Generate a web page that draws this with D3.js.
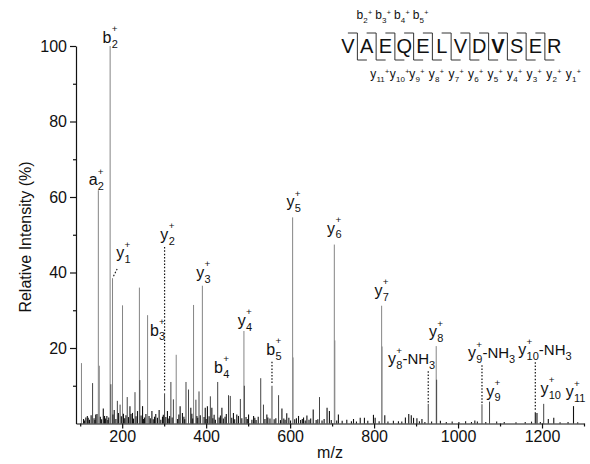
<!DOCTYPE html>
<html><head><meta charset="utf-8">
<script src="https://cdn.jsdelivr.net/npm/d3@7"></script>
<style>
body{margin:0;background:#fff}
svg{display:block}
text{font-family:"Liberation Sans",Arial,Helvetica,sans-serif;fill:#111}
</style>
</head><body>
<svg id="chart" width="590" height="464"></svg>
<script>
// ---------------- data ----------------
const peakMz  = [103,113.5,117,129.5,137,143.2,145.5,155,163.5,171.3,173,177,181,188.5,195,200.8,212,218.5,224.5,230.5,236.5,241,242,248.5,256.5,260.5,270.8,280,288,296,301,307.8,316,322,328.7,338,343.5,352,358,363.5,370,375.6,383,391,397.8,403,410,413.6,427.5,437.5,453.3,457.5,465,473,481.5,490,491,501,513,530,536.5,544.6,556.8,572.5,580.5,592,606,607,620,632,640,655,670,688,693.6,705.3,706.5,715,735,751,767,777,798.5,802.5,818,819,825.5,874.6,882.6,888.6,894,902,914,929,948,949,1040,1057,1075,1184,1188,1204,1215,1228,1275];
const peakInt = [16,1.6,2,10.7,2.4,61.8,15.3,4,2,100,10.4,38.5,3.6,6,5,31.3,7,4.6,2.8,8.3,3.3,36,11.5,4.6,2.5,28.7,3.3,2.5,3.6,1.8,8,3.3,11,6.4,18.2,4.6,2.8,11,9,4.2,31.4,6.3,8.5,36.5,4.2,4.6,7.2,4.2,11,4.2,7.5,7.3,2.8,2.4,6.5,24.5,10,2.4,2,12,5,2.4,10,7.5,4,2.7,54.6,17.5,2,1.6,2.1,3.7,7,4.2,3.3,47.4,22,2.4,1,1.2,1.5,1.5,2.3,1.5,31.2,20.4,2.2,1.6,2.5,2.2,1.5,1.4,1.2,5.2,20.5,11.6,0.8,5.1,5.8,3,2.8,5.2,1.2,1.5,4.6];
const noiseMz  = [108,110,119,122,126,133,135,140,148,151,158,160,166,168,178,185,191,198,203,206,209,215,221,227,233,245,251,253,264,267,274,277,284,292,298,304,311,313,319,332,335,347,349,366,368,378,380,386,395,400,407,416,419,422,431,434,441,445,448,461,468,477,485,495,498,509,516,519,524,540,547,552,562,566,577,585,588,597,601,611,615,625,629,636,645,649,662,666,676,681,698,711,724,746,758,785,812,833,846,858,866,908,921,937,958,972,986,1002,1018,1032,1046,1066,1092,1110,1138,1160,1175,1196,1243,1262,1285];
const noiseInt = [1.2,0.8,1.5,1.0,2.2,1.4,0.9,2.5,1.8,1.1,2.0,1.3,0.9,1.6,2.4,1.2,2.8,1.9,2.6,1.4,2.2,1.7,2.5,1.3,1.9,2.1,1.2,1.6,2.0,1.4,1.1,1.8,1.5,1.0,2.3,1.7,1.3,2.0,1.6,1.2,2.4,1.8,1.1,2.6,1.3,2.0,1.5,2.2,1.7,1.2,1.9,1.4,2.3,1.0,1.6,2.1,1.3,1.8,2.5,1.5,1.1,2.0,1.4,1.7,1.2,1.0,1.5,0.9,1.8,1.2,1.6,1.3,1.1,1.4,0.9,1.3,1.0,1.5,0.8,1.1,1.4,0.9,1.2,0.8,1.0,1.3,0.9,1.1,0.8,1.2,0.9,0.8,0.7,0.6,0.5,0.7,0.6,0.5,0.7,0.6,0.5,0.6,0.4,0.5,0.7,0.4,0.5,0.4,0.6,0.4,0.5,0.4,0.5,0.4,0.3,0.4,0.5,0.4,0.3,0.4,0.3];

const yTickLabels = [20,40,60,80,100];
const yMinorTicks = [10,30,50,70,90];
const xTickLabels = [200,400,600,800,1000,1200];
const xMinorTicks = [100,300,500,700,900,1100,1300];

// annotated ions
const ionType   = ["a","b","y","y","b","y","b","y","b","y","y","y","y","y","y","y","y","y","y"];
const ionNum    = ["2","2","1","2","3","3","4","4","5","5","6","7","8","8","9","9","10","10","11"];
const ionSuffix = ["","","","","","","","","","","","","-NH3","","-NH3","","-NH3","",""];
const ionMz     = [143.2,171.3,177,301,301,391,427.5,490,556.8,606,705.3,818,929,948,1057,1075,1184,1204,1275];
const ionInt    = [61.8,100,38.5,8,8,36.5,11,24.5,10,54.6,47.4,31.2,5.2,20.5,5.1,5.8,3,5.2,4.6];

// peptide sequence
const sequence = ["V","A","E","Q","E","L","V","D","V","S","E","R"];
const seqBIons = [2,3,4,5];
const seqYIons = [11,10,9,8,7,6,5,4,3,2,1];

// ---------------- drawing ----------------
const svg = d3.select("#chart");
const x = d3.scaleLinear().domain([90,1300]).range([76,584]);
const y = d3.scaleLinear().domain([0,100]).range([423.5,46]);

// peaks
const peaks = peakMz.map((m,i)=>({m, v:peakInt[i]}))
  .concat(noiseMz.map((m,i)=>({m, v:noiseInt[i]})))
  .sort((a,b)=>b.v-a.v);
svg.append("g").selectAll("line").data(peaks).join("line")
  .attr("x1",d=>x(d.m)).attr("x2",d=>x(d.m))
  .attr("y1",y(0)).attr("y2",d=>y(d.v))
  .attr("stroke",d=>d.v>=15?"#858585":(d.v>=5?"#444":"#111"))
  .attr("stroke-width",d=>d.v>=5?1:1.1);

// axes
const font = "'Liberation Sans',Arial,sans-serif";
svg.append("g").attr("transform",`translate(${x.range()[0]},0)`)
  .call(d3.axisLeft(y).tickValues(yTickLabels).tickFormat(d3.format("d")).tickSizeInner(6).tickSizeOuter(0).tickPadding(3));
svg.append("g").attr("transform",`translate(${x.range()[0]},0)`)
  .call(d3.axisLeft(y).tickValues(yMinorTicks).tickSize(3).tickFormat(""))
  .select(".domain").remove();
svg.append("g").attr("transform",`translate(0,${y(0)})`)
  .call(d3.axisBottom(x).tickValues(xTickLabels).tickFormat(d3.format("d")).tickSizeInner(5).tickSizeOuter(0).tickPadding(2));
svg.append("g").attr("transform",`translate(0,${y(0)})`)
  .call(d3.axisBottom(x).tickValues(xMinorTicks).tickSize(3).tickFormat(""))
  .select(".domain").remove();
svg.selectAll(".tick text").attr("font-size",16).attr("font-family",font).attr("fill","#111");
svg.selectAll(".domain,.tick line").attr("stroke","#111").attr("stroke-width",1.2);

svg.append("text").attr("transform","translate(31,237) rotate(-90)")
  .attr("text-anchor","middle").attr("font-size",16).text("Relative Intensity (%)");
svg.append("text").attr("x",330).attr("y",458).attr("text-anchor","middle")
  .attr("font-size",16).text("m/z");

// ion label builder
function ionLabel(parent, o){
  const g = parent.append("g");
  const t = g.append("text").attr("x",0).attr("y",0).attr("font-size",o.size).text(o.type);
  const w = t.node().getComputedTextLength() + 0.3;
  const sub = g.append("text").attr("x",w).attr("y",o.size*0.3).attr("font-size",o.sub).text(o.num);
  const ws = sub.node().getComputedTextLength();
  let end;
  if (o.stacked){
    const sp = g.append("text").attr("x",w).attr("y",-o.size*0.66).attr("font-size",o.sub*0.9).text("+");
    end = w + Math.max(ws, sp.node().getComputedTextLength());
  } else {
    const sp = g.append("text").attr("x",w+ws+0.3).attr("y",-o.size*0.3).attr("font-size",o.sub*0.9).text("+");
    end = w + ws + 0.3 + sp.node().getComputedTextLength();
  }
  if (o.suffix){
    const fs = o.size - 1;
    const s = g.append("text").attr("x",end).attr("y",0).attr("font-size",fs).text(o.suffix.slice(0,-1));
    const wsf = s.node().getComputedTextLength();
    const s3 = g.append("text").attr("x",end+wsf).attr("y",o.size*0.3).attr("font-size",o.sub).text(o.suffix.slice(-1));
    end += wsf + s3.node().getComputedTextLength();
  }
  const shift = o.anchor==="middle" ? -end/2 : (o.anchor==="end" ? -end : 0);
  g.attr("transform",`translate(${o.x+shift},${o.y})`);
}

// placement of each annotation (pixel offsets relative to the peak)
const layout = [
  {dx:-2, gap:5},                 // a2
  {dx:0, gap:3},                  // b2
  {dx:11, gap:20, diag:true},     // y1
  {dx:3, at:48.6, lead:true},     // y2
  {dx:-7, at:23.3},               // b3
  {dx:1, gap:8},                  // y3
  {dx:4, gap:9},                  // b4
  {dx:1, gap:5},                  // y4
  {dx:2, at:18.2, lead:true},     // b5
  {dx:1, gap:10},                 // y5
  {dx:0, gap:11},                 // y6
  {dx:0, gap:10},                 // y7
  {dx:7, at:15.7, lead:true, anchor:"end"},    // y8-NH3
  {dx:0, gap:9},                  // y8
  {dx:-14, at:17.3, lead:true, anchor:"start"},// y9-NH3
  {dx:4, gap:5},                  // y9
  {dx:-17, at:18.1, lead:true, anchor:"start"},// y10-NH3
  {dx:7, gap:10},                 // y10
  {dx:2, gap:9}                   // y11
];
const ann = svg.append("g");
ionMz.forEach((m,i)=>{
  const L = layout[i];
  const px = x(m), py = y(ionInt[i]);
  const by = L.at!==undefined ? y(L.at) : py - L.gap;
  if (L.lead){
    ann.append("line").attr("x1",px).attr("x2",px).attr("y1",by+7).attr("y2",py-1)
      .attr("stroke","#111").attr("stroke-width",1.2).attr("stroke-dasharray","1.5,1.8");
  }
  if (L.diag){
    ann.append("line").attr("x1",px+1).attr("y1",py-2).attr("x2",px+5).attr("y2",py-10)
      .attr("stroke","#111").attr("stroke-width",1.1).attr("stroke-dasharray","1.5,1.8");
  }
  ionLabel(ann,{type:ionType[i],num:ionNum[i],suffix:ionSuffix[i],x:px+L.dx,y:by,
    anchor:L.anchor||"middle",size:16,sub:11,stacked:true});
});

// peptide sequence diagram
const seqG = svg.append("g");
const sx = d3.scalePoint().domain(d3.range(sequence.length)).range([348,554.25]);
const step = sx.step();
const gapX = k => sx(k-1) + step/2;   // gap after residue k (1-based)
seqG.selectAll("text.res").data(sequence).join("text").attr("class","res")
  .attr("x",(d,i)=>sx(i)).attr("y",53).attr("text-anchor","middle")
  .attr("font-size",20).attr("font-weight",(d,i)=>i===8?"bold":"normal").text(d=>d);
d3.range(1,sequence.length).forEach(k=>{
  const gx = gapX(k);
  seqG.append("path").attr("d",`M${gx-9.5},33H${gx}V60H${gx+9.5}`)
    .attr("fill","none").attr("stroke","#333").attr("stroke-width",1);
});
seqBIons.forEach(n=>{
  ionLabel(seqG,{type:"b",num:String(n),x:gapX(n-1)-1,y:19,anchor:"start",size:12,sub:8,stacked:false});
});
seqYIons.forEach(n=>{
  const k = sequence.length - n;
  ionLabel(seqG,{type:"y",num:String(n),x:gapX(k)+12+k*0.8,y:78,anchor:"start",size:12,sub:8,stacked:false});
});
</script>
</body></html>
